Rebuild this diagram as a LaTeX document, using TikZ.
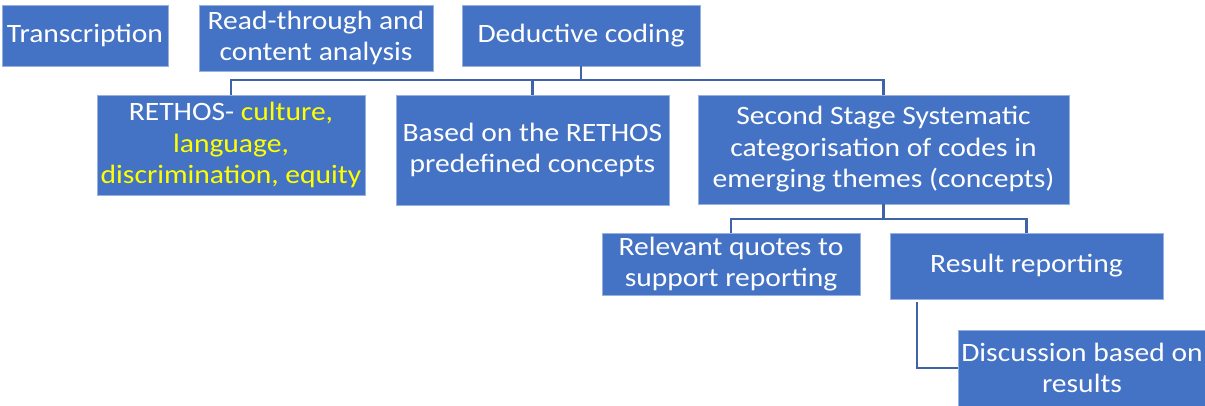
\documentclass[tikz,border=0pt]{standalone}
\usepackage{fontspec}
\setmainfont{Carlito}[FakeStretch=1.115]
\usepackage{tikz}
\usetikzlibrary{positioning}
\definecolor{boxblue}{RGB}{68,114,196}
\definecolor{linkblue}{RGB}{63,98,168}
\definecolor{hiyellow}{RGB}{255,255,0}
\begin{document}
\begin{tikzpicture}[x=1pt,y=-1pt,
  box/.style={rectangle,fill=boxblue,draw=boxblue!55!white,line width=0.8pt,
    text=white,align=center,inner sep=0pt,
    font=\fontsize{26.5}{31.5}\selectfont},
  link/.style={draw=linkblue,line width=2.2pt}]
  \useasboundingbox (0,0) rectangle (1205,405);
  \node[box,minimum width=166pt,minimum height=61pt] (T) at (85,35.5) {Transcription};
  \node[box,minimum width=234pt,minimum height=66pt] (R) at (316,38) {Read-through and\\content analysis};
  \node[box,minimum width=238pt,minimum height=61pt] (D) at (581,35.5) {Deductive coding};
  \node[box,minimum width=268pt,minimum height=100pt] (C) at (231,145)
    {RETHOS- \textcolor{hiyellow}{culture,}\\\textcolor{hiyellow}{language,}\\\textcolor{hiyellow}{discrimination, equity}};
  \node[box,minimum width=273pt,minimum height=110pt] (B) at (532.5,150) {Based on the RETHOS\\predefined concepts};
  \node[box,minimum width=371pt,minimum height=109pt] (S) at (883.5,149.5)
    {Second Stage Systematic\\categorisation of codes in\\emerging themes (concepts)};
  \node[box,minimum width=258pt,minimum height=62pt] (Q) at (731,264) {Relevant quotes to\\support reporting};
  \node[box,minimum width=273pt,minimum height=66pt] (P) at (1026.5,266) {Result reporting};
  \node[box,minimum width=248pt,minimum height=76pt] (E) at (1082,368) {Discussion based on\\results};
  \coordinate (bus1) at (581,80);
  \coordinate (bus2) at (883.5,219);
  \coordinate (tap) at (917,302);
\path[link] (D.south) -- (bus1)
  (bus1) -| (C.north)
  (bus1) -| (B.north)
  (bus1) -| (S.north)
  (S.south) -- (bus2)
  (bus2) -| (Q.north)
  (bus2) -| (P.north)
  (tap) |- (E.west);
\end{tikzpicture}
\end{document}
